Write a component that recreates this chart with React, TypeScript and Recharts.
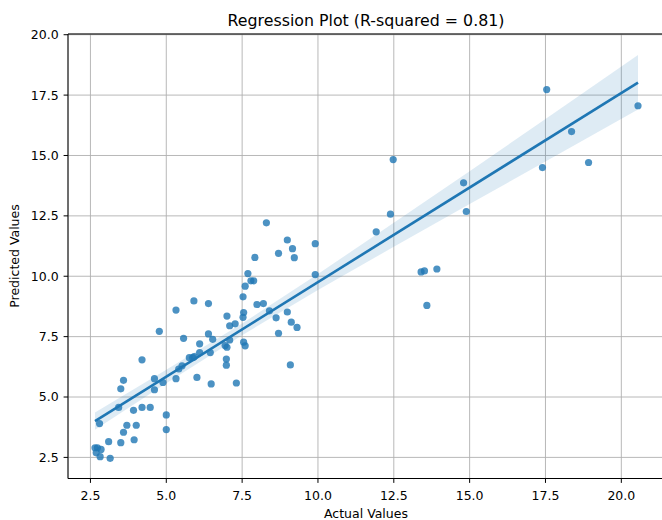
import React from "react";
import {
  ComposedChart,
  Scatter,
  Line,
  Area,
  XAxis,
  YAxis,
  CartesianGrid,
  ReferenceLine,
} from "recharts";

const ACTUAL = [
  2.65, 2.73, 2.85, 2.69, 2.82, 3.15, 3.10, 2.80, 3.50, 3.59, 3.70, 3.94, 4.01, 3.92, 4.20, 4.47,
  3.43, 3.50, 3.59, 4.20, 4.77, 4.61, 4.61, 4.89, 5.00, 5.00, 5.32, 5.32, 5.41, 5.52, 5.57, 5.76,
  5.87, 5.92, 6.01, 5.91, 6.10, 6.10, 6.39, 6.39, 6.53, 6.45, 6.48, 7.00, 7.09, 7.27, 6.94, 7.00,
  7.09, 6.98, 6.98, 7.31, 7.53, 7.55, 7.53, 7.55, 7.60, 7.60, 7.69, 7.79, 7.88, 7.99, 8.30, 8.99,
  9.16, 9.22, 8.70, 9.91, 9.91, 7.92, 8.20, 8.40, 8.62, 8.99, 9.12, 9.31, 8.70, 9.09, 12.48, 12.39,
  11.92, 14.80, 14.89, 13.40, 13.51, 13.92, 13.59, 17.54, 17.40, 18.36, 18.92, 20.55,
];
const PREDICTED = [
  2.90, 2.90, 2.83, 2.69, 2.53, 2.46, 3.15, 3.90, 3.11, 3.54, 3.83, 3.23, 3.83, 4.45, 4.57, 4.57,
  4.57, 5.34, 5.69, 6.54, 7.72, 5.30, 5.76, 5.60, 4.26, 3.65, 8.60, 5.76, 6.16, 6.29, 7.43, 6.63,
  6.63, 6.67, 5.81, 8.98, 7.20, 6.84, 8.87, 7.61, 7.39, 6.84, 5.54, 8.35, 7.95, 8.03, 7.13, 7.06,
  7.36, 6.57, 6.32, 5.58, 9.15, 8.50, 8.30, 7.27, 7.12, 9.59, 10.11, 9.81, 9.81, 8.83, 12.21, 11.50,
  11.14, 10.77, 10.95, 11.35, 10.07, 10.78, 8.87, 8.57, 8.28, 8.52, 8.10, 7.88, 7.64, 6.33, 14.83, 12.57,
  11.84, 13.87, 12.68, 10.18, 10.22, 10.30, 8.79, 17.73, 14.50, 15.99, 14.71, 17.06,
];

const FIT_X = [2.65, 20.55];
const FIT_Y = [4.0, 18.02];

const CI_X = [2.65, 5, 7.5, 10, 12.5, 15, 17.5, 20.55];
const CI_LOW = [3.64, 5.57, 7.56, 9.43, 11.22, 12.99, 14.75, 16.9];
const CI_HIGH = [4.36, 6.13, 8.04, 10.09, 12.22, 14.35, 16.51, 19.16];

const X_TICKS = [2.5, 5, 7.5, 10, 12.5, 15, 17.5, 20];
const Y_TICKS = [2.5, 5, 7.5, 10, 12.5, 15, 17.5, 20];
const X_DOMAIN = [1.76, 21.44];
const Y_DOMAIN = [1.626, 20.03];

const TITLE = "Regression Plot (R-squared = 0.81)";
const X_LABEL = "Actual Values";
const Y_LABEL = "Predicted Values";

const points = ACTUAL.map((x, i) => ({ x, y: PREDICTED[i] }));
const fit = FIT_X.map((x, i) => ({ x, y: FIT_Y[i] }));
const band = CI_X.map((x, i) => ({ x, band: [CI_LOW[i], CI_HIGH[i]] }));

const BLUE = "#1f77b4";
const FONT = "'DejaVu Sans', sans-serif";
const tickStyle = { fontFamily: FONT, fontSize: 12.5, fill: "#000" };

const Dot = (props: any) => (
  <circle cx={props.cx} cy={props.cy} r={3.6} fill={BLUE} fillOpacity={0.8} />
);

export default function App() {
  return (
    <div
      style={{
        position: "absolute",
        left: 0,
        top: 0,
        width: 662,
        height: 520,
        overflow: "hidden",
        background: "#fff",
      }}
    >
      <ComposedChart
        width={670}
        height={520}
        margin={{ top: 34, right: 5, bottom: 0, left: 0 }}
      >
        <CartesianGrid stroke="#b0b0b0" strokeWidth={0.9} />
        <XAxis
          type="number"
          dataKey="x"
          domain={X_DOMAIN}
          ticks={X_TICKS}
          allowDataOverflow
          height={41.5}
          tickFormatter={(v: number) => v.toFixed(1)}
          tick={tickStyle}
          tickSize={4.4}
          tickMargin={8}
          stroke="#000"
          axisLine={{ stroke: "#000", strokeWidth: 1 }}
          tickLine={{ stroke: "#000" }}
        />
        <YAxis
          type="number"
          domain={Y_DOMAIN}
          ticks={Y_TICKS}
          allowDataOverflow
          width={68}
          tickFormatter={(v: number) => v.toFixed(1)}
          tick={tickStyle}
          tickSize={4.4}
          tickMargin={5}
          stroke="#000"
          axisLine={{ stroke: "#000", strokeWidth: 1 }}
          tickLine={{ stroke: "#000" }}
        />
        <ReferenceLine y={Y_DOMAIN[1]} stroke="#000" strokeWidth={1} ifOverflow="visible" />
        <Scatter data={points} dataKey="y" shape={Dot} isAnimationActive={false} />
        <Area
          data={band}
          dataKey="band"
          type="linear"
          stroke="none"
          fill={BLUE}
          fillOpacity={0.15}
          isAnimationActive={false}
          activeDot={false}
        />
        <Line
          data={fit}
          dataKey="y"
          type="linear"
          stroke={BLUE}
          strokeWidth={2.6}
          dot={false}
          activeDot={false}
          isAnimationActive={false}
        />
      </ComposedChart>
      <svg
        width={662}
        height={520}
        style={{ position: "absolute", left: 0, top: 0, pointerEvents: "none" }}
      >
        <text x={366} y={25.5} textAnchor="middle" fontFamily={FONT} fontSize={15.8} fill="#000">
          {TITLE}
        </text>
        <text x={366} y={518} textAnchor="middle" fontFamily={FONT} fontSize={12.5} fill="#000">
          {X_LABEL}
        </text>
        <text
          transform="translate(19,256) rotate(-90)"
          textAnchor="middle"
          fontFamily={FONT}
          fontSize={12.5}
          fill="#000"
        >
          {Y_LABEL}
        </text>
      </svg>
    </div>
  );
}
